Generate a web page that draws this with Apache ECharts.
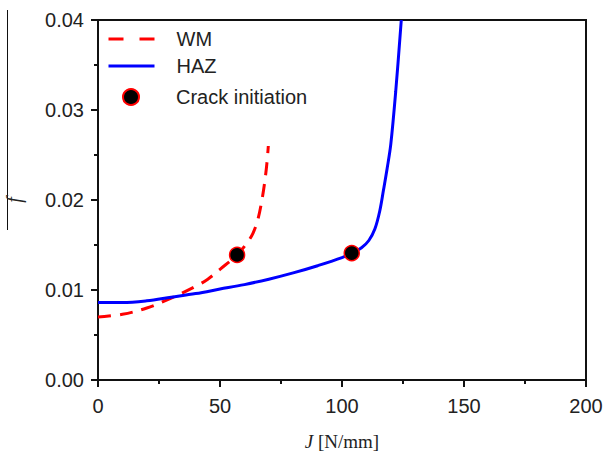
<!DOCTYPE html>
<html>
<head>
<meta charset="utf-8">
<script src="https://cdn.jsdelivr.net/npm/echarts@6/dist/echarts.min.js"></script>
<style>
html,body{margin:0;padding:0;background:#fff;}
#chart{width:603px;height:453px;}
</style>
</head>
<body>
<div id="chart"></div>
<script>
// Data
var wmJ = [0, 10, 20, 30, 40, 45, 50, 57, 61, 63.5, 65.5, 67.5, 69, 69.8];
var wmF = [0.0070, 0.0073, 0.0080, 0.0091, 0.0104, 0.0112, 0.0123, 0.0139, 0.0152, 0.0163, 0.0178, 0.0205, 0.0235, 0.0260];
var hazJ = [0, 10, 20, 30, 40, 50, 60, 70, 80, 90, 100, 104, 108, 111, 113.5, 115.5, 117, 118.5, 120, 122, 124.3];
var hazF = [0.0086, 0.0086, 0.0088, 0.0092, 0.0096, 0.0101, 0.0106, 0.0112, 0.0119, 0.0127, 0.0136, 0.0141, 0.0147, 0.0155, 0.0168, 0.0188, 0.0211, 0.0235, 0.0262, 0.0320, 0.0400];
var crackJ = [57, 104];
var crackF = [0.0139, 0.0141];
var seriesNames = ['WM', 'HAZ', 'Crack initiation'];
var xLabel = 'J';
var xUnit = ' [N/mm]';
var yLabel = 'f';

function pairs(a, b) { return a.map(function (v, i) { return [v, b[i]]; }); }

var chart = echarts.init(document.getElementById('chart'), null, { renderer: 'svg' });
var labelFont = 'Liberation Sans, Arial, sans-serif';
var legendText = { fontFamily: labelFont, fontSize: 20, color: '#222', padding: [0, 0, 0, 17] };

chart.setOption({
  animation: false,
  grid: { left: 98, right: 17, top: 20, bottom: 73, containLabel: false, outerBoundsMode: 'none',
    show: true, borderColor: '#111', borderWidth: 2 },
  legend: [
    { data: [seriesNames[0]], left: 102, top: 24, padding: 5, itemWidth: 46, itemHeight: 16,
      itemStyle: { opacity: 0 }, lineStyle: { type: [15, 16], width: 3 }, textStyle: legendText },
    { data: [seriesNames[1]], left: 102, top: 51, padding: 5, itemWidth: 46, itemHeight: 16,
      itemStyle: { opacity: 0 }, lineStyle: { width: 3 }, textStyle: legendText },
    { data: [{ name: seriesNames[2], icon: 'circle' }], left: 117, top: 82, padding: 5, itemWidth: 16, itemHeight: 16,
      textStyle: { fontFamily: labelFont, fontSize: 20, color: '#222', padding: [0, 0, 0, 32] } }
  ],
  xAxis: {
    type: 'value', min: 0, max: 200, interval: 50,
    axisLine: { show: true, lineStyle: { color: '#111', width: 2 } },
    axisTick: { show: true, inside: false, length: 7, lineStyle: { color: '#111', width: 2 } },
    minorTick: { show: true, splitNumber: 2, length: 4, lineStyle: { color: '#111', width: 2 } },
    splitLine: { show: false },
    axisLabel: { fontFamily: labelFont, fontSize: 20, color: '#222', margin: 16 },
    name: '{i|' + xLabel + '}{n|' + xUnit + '}',
    nameLocation: 'middle', nameGap: 52,
    nameTextStyle: {
      rich: {
        i: { fontFamily: 'Liberation Serif, Times New Roman, serif', fontStyle: 'italic', fontSize: 19, color: '#222' },
        n: { fontFamily: 'Liberation Serif, Times New Roman, serif', fontSize: 19, color: '#222' }
      }
    }
  },
  yAxis: {
    type: 'value', min: 0, max: 0.04, interval: 0.01,
    axisLine: { show: true, lineStyle: { color: '#111', width: 2 } },
    axisTick: { show: true, inside: false, length: 7, lineStyle: { color: '#111', width: 2 } },
    minorTick: { show: true, splitNumber: 2, length: 4, lineStyle: { color: '#111', width: 2 } },
    splitLine: { show: false },
    axisLabel: { fontFamily: labelFont, fontSize: 20, color: '#222', margin: 14,
      formatter: function (v) { return v.toFixed(2); } },
    name: yLabel, nameLocation: 'middle', nameRotate: 90, nameGap: 74,
    nameTextStyle: { fontFamily: 'Liberation Serif, Times New Roman, serif', fontStyle: 'italic', fontSize: 20, color: '#222' }
  },
  graphic: [
    { type: 'line', shape: { x1: 7.5, y1: 10, x2: 7.5, y2: 230 }, style: { stroke: '#111', lineWidth: 1 } }
  ],
  series: [
    { name: seriesNames[0], type: 'line', data: pairs(wmJ, wmF), smooth: 0.35,
      showSymbol: false, symbol: 'none', color: '#ff0000',
      lineStyle: { color: '#ff0000', width: 3, type: [13, 9] } },
    { name: seriesNames[1], type: 'line', data: pairs(hazJ, hazF), smooth: 0.35,
      showSymbol: false, symbol: 'none', color: '#0000ff',
      lineStyle: { color: '#0000ff', width: 3 } },
    { name: seriesNames[2], type: 'scatter', data: pairs(crackJ, crackF), symbol: 'circle', symbolSize: 15,
      itemStyle: { color: '#000', borderColor: '#ff0000', borderWidth: 1.5, opacity: 1 }, z: 5 }
  ]
});
</script>
</body>
</html>
